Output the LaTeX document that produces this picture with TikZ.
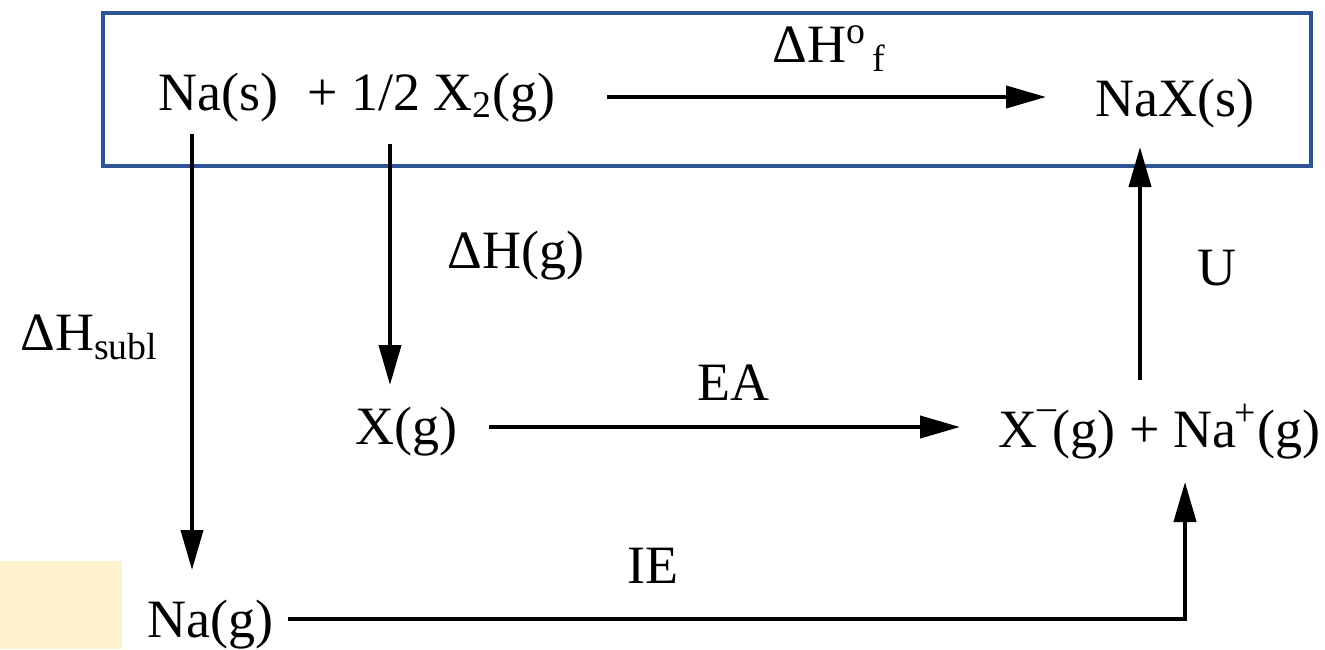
\documentclass[tikz,border=0pt]{standalone}
\usepackage{fontspec}
\setmainfont{Liberation Serif}
\newfontfamily\timesfont{Liberation Serif}
\usetikzlibrary{arrows.meta}
\definecolor{boxblue}{HTML}{2F5597}
\definecolor{paleyellow}{HTML}{FFF2CC}
\tikzset{
  lbl/.style={font=\timesfont\fontsize{27}{30}\selectfont, inner sep=0pt, anchor=base west},
  conn/.style={line width=2pt, -{Triangle[length=20pt,width=11pt]}},
  frame/.style={draw=boxblue, line width=2.2pt},
}
\begin{document}
\begin{tikzpicture}[x=0.5pt,y=-0.5pt]
\useasboundingbox (0,0) rectangle (1325,649);
\fill[paleyellow] (0,561) rectangle (122,649);
\draw[frame] (103,13) rectangle (1311,166);
% species
\node[lbl] (nas) at (158,110) {Na(s)};
\node[lbl] (x2) at (307,110) {+ 1/2 X\textsubscript{2}(g)};
\node[lbl] (nax) at (1095,116) {NaX(s)};
\node[lbl] (xg) at (355,444) {X(g)};
\node[lbl] (ions) at (998,447) {X\textsuperscript{\raisebox{0.25em}{–}}\kern-0.08em(g) + Na\kern-0.03em\textsuperscript{\raisebox{0.1em}{+}}(g)};
\node[lbl] (nag) at (147,637) {Na(g)};
% labels
\node[lbl] (dhf) at (772,62) {ΔH\textsuperscript{o}\textsubscript{\,f}};
\node[lbl] (dhg) at (447,268) {ΔH(g)};
\node[lbl] (dhs) at (20,350) {ΔH\textsubscript{subl}};
\node[lbl] (ea) at (697,400) {EA};
\node[lbl] (u) at (1197,285) {U};
\node[lbl] (ie) at (627,583) {IE};
% connector ends
\coordinate (f0) at (607,97);
\coordinate (f1) at (1046,97);
\coordinate (s0) at (192,134);
\coordinate (s1) at (192,570);
\coordinate (d0) at (390,144);
\coordinate (d1) at (390,385);
\coordinate (e0) at (489,427);
\coordinate (e1) at (960,427);
\coordinate (u0) at (1140,380);
\coordinate (u1) at (1140,147);
\coordinate (i0) at (288,619);
\coordinate (i1) at (1185,482);
% connectors
\draw[conn] (f0) -- (f1);
\draw[conn] (s0) -- (s1);
\draw[conn] (d0) -- (d1);
\draw[conn] (e0) -- (e1);
\draw[conn] (u0) -- (u1);
\draw[conn] (i0) -| (i1);
\end{tikzpicture}
\end{document}
